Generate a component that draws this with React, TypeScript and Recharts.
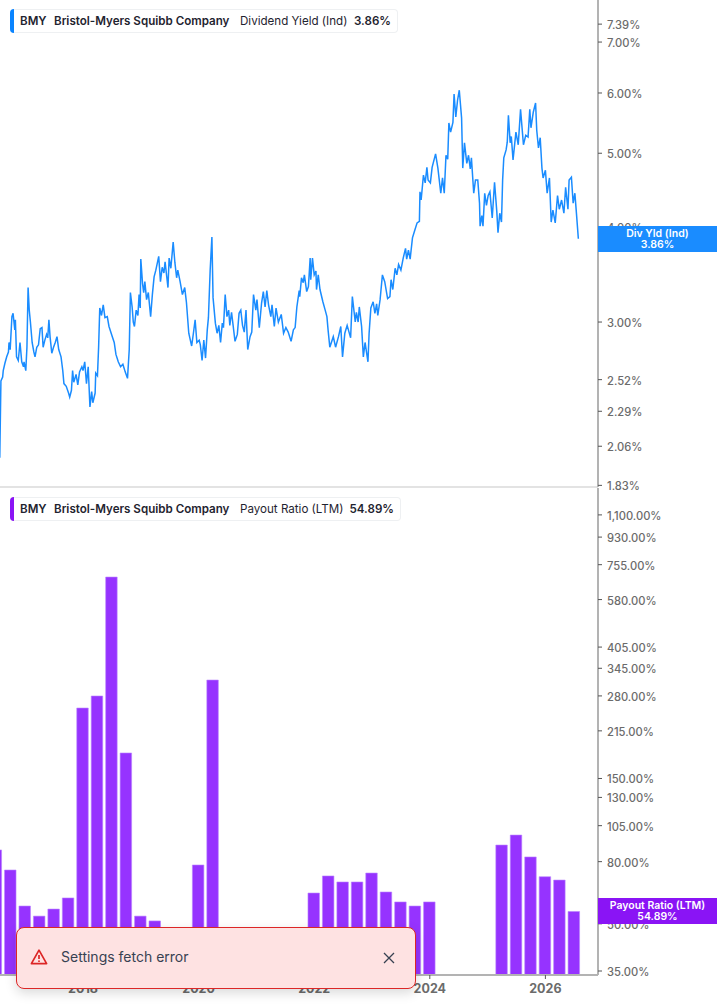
import React from "react";
import {
  Bar,
  BarChart,
  Line,
  LineChart,
  XAxis,
  YAxis,
} from "recharts";

// decimal years
const yieldYears = [
  2016.56, 2016.58, 2016.61, 2016.62, 2016.65, 2016.68, 2016.71, 2016.72, 2016.74, 2016.77,
  2016.79, 2016.82, 2016.83, 2016.85, 2016.88, 2016.91, 2016.94, 2016.97, 2016.98, 2017.01,
  2017.03, 2017.05, 2017.07, 2017.09, 2017.12, 2017.15, 2017.17, 2017.2, 2017.23, 2017.26,
  2017.29, 2017.31, 2017.34, 2017.37, 2017.39, 2017.41, 2017.43, 2017.46, 2017.49, 2017.52,
  2017.55, 2017.58, 2017.62, 2017.65, 2017.67, 2017.71, 2017.75, 2017.77, 2017.8, 2017.82,
  2017.84, 2017.88, 2017.91, 2017.94, 2017.98, 2018.0, 2018.03, 2018.06, 2018.09, 2018.12,
  2018.15, 2018.17, 2018.21, 2018.22, 2018.25, 2018.27, 2018.29, 2018.32, 2018.35, 2018.38,
  2018.42, 2018.45, 2018.5, 2018.54, 2018.57, 2018.61, 2018.65, 2018.69, 2018.73, 2018.77,
  2018.8, 2018.82, 2018.85, 2018.87, 2018.89, 2018.92, 2018.95, 2018.97, 2018.99, 2019.0,
  2019.03, 2019.05, 2019.07, 2019.1, 2019.13, 2019.17, 2019.2, 2019.23, 2019.26, 2019.31,
  2019.34, 2019.37, 2019.4, 2019.42, 2019.47, 2019.49, 2019.52, 2019.56, 2019.59, 2019.62,
  2019.64, 2019.68, 2019.72, 2019.76, 2019.79, 2019.83, 2019.88, 2019.91, 2019.94, 2019.97,
  2020.01, 2020.03, 2020.06, 2020.09, 2020.12, 2020.15, 2020.17, 2020.2, 2020.23, 2020.25,
  2020.29, 2020.32, 2020.35, 2020.38, 2020.41, 2020.43, 2020.46, 2020.49, 2020.52, 2020.54,
  2020.57, 2020.63, 2020.67, 2020.7, 2020.73, 2020.76, 2020.79, 2020.82, 2020.85, 2020.89,
  2020.92, 2020.95, 2020.99, 2021.01, 2021.05, 2021.09, 2021.12, 2021.15, 2021.18, 2021.21,
  2021.25, 2021.27, 2021.31, 2021.34, 2021.38, 2021.43, 2021.47, 2021.51, 2021.55, 2021.6,
  2021.64, 2021.67, 2021.7, 2021.74, 2021.75, 2021.78, 2021.81, 2021.83, 2021.87, 2021.9,
  2021.93, 2021.94, 2021.97, 2022.0, 2022.03, 2022.04, 2022.07, 2022.1, 2022.15, 2022.19,
  2022.22, 2022.24, 2022.27, 2022.33, 2022.37, 2022.42, 2022.46, 2022.49, 2022.53, 2022.57,
  2022.63, 2022.66, 2022.71, 2022.73, 2022.76, 2022.78, 2022.82, 2022.85, 2022.88, 2022.93,
  2022.95, 2022.98, 2023.02, 2023.05, 2023.08, 2023.1, 2023.14, 2023.18, 2023.22, 2023.27,
  2023.31, 2023.33, 2023.36, 2023.4, 2023.43, 2023.46, 2023.5, 2023.54, 2023.58, 2023.6,
  2023.63, 2023.66, 2023.7, 2023.74, 2023.78, 2023.82, 2023.83, 2023.85, 2023.89, 2023.92,
  2023.95, 2023.97, 2024.01, 2024.04, 2024.1, 2024.14, 2024.19, 2024.22, 2024.25, 2024.28,
  2024.31, 2024.33, 2024.36, 2024.4, 2024.42, 2024.45, 2024.48, 2024.51, 2024.55, 2024.57,
  2024.6, 2024.64, 2024.67, 2024.7, 2024.72, 2024.76, 2024.79, 2024.83, 2024.86, 2024.87,
  2024.9, 2024.92, 2024.95, 2024.98, 2025.01, 2025.04, 2025.08, 2025.12, 2025.16, 2025.18,
  2025.21, 2025.24, 2025.26, 2025.28, 2025.32, 2025.34, 2025.36, 2025.39, 2025.41, 2025.44,
  2025.49, 2025.53, 2025.57, 2025.62, 2025.66, 2025.7, 2025.73, 2025.75, 2025.79, 2025.83,
  2025.85, 2025.88, 2025.91, 2025.94, 2025.96, 2026.0, 2026.03, 2026.07, 2026.1, 2026.13,
  2026.17, 2026.21, 2026.24, 2026.28, 2026.32, 2026.35, 2026.39, 2026.41, 2026.45, 2026.48,
  2026.51, 2026.54, 2026.57,
];

const yieldValues = [
  1.99, 2.51, 2.54, 2.59, 2.65, 2.7, 2.74, 2.82, 2.76, 3.05,
  3.08, 2.93, 3.02, 2.7, 2.67, 2.82, 2.66, 2.62, 2.66, 2.59,
  2.78, 3.33, 3.11, 3.0, 2.82, 2.74, 2.7, 2.78, 2.8, 2.94,
  2.95, 2.78, 2.84, 2.89, 2.86, 3.02, 2.87, 2.73, 2.78, 2.82,
  2.87, 2.76, 2.7, 2.59, 2.49, 2.47, 2.42, 2.39, 2.44, 2.59,
  2.5, 2.56, 2.48, 2.58, 2.62, 2.59, 2.66, 2.49, 2.62, 2.32,
  2.43, 2.35, 2.42, 2.57, 2.55, 2.78, 3.13, 3.06, 3.16, 3.04,
  3.05, 2.96, 2.88, 2.82, 2.72, 2.66, 2.62, 2.64, 2.58, 2.53,
  2.76, 3.28, 3.14, 3.0, 2.96, 3.11, 3.06, 3.26, 3.13, 3.63,
  3.37, 3.28, 3.39, 3.21, 3.28, 3.05, 3.26, 3.44, 3.51, 3.66,
  3.39, 3.54, 3.48, 3.6, 3.33, 3.64, 3.53, 3.82, 3.59, 3.43,
  3.51, 3.39, 3.26, 3.33, 3.18, 2.9, 2.79, 2.9, 3.02, 2.82,
  2.84, 2.8, 2.67, 2.84, 2.69, 2.93, 3.04, 3.51, 3.88, 3.23,
  2.99, 2.9, 2.97, 2.82, 2.99, 2.95, 3.26, 3.05, 3.11, 2.97,
  3.09, 2.83, 2.89, 3.08, 3.11, 2.97, 2.91, 3.11, 2.76, 2.87,
  2.91, 3.26, 3.11, 3.21, 2.95, 3.18, 3.29, 3.14, 3.3, 3.16,
  3.05, 3.16, 2.96, 3.13, 3.0, 3.07, 2.9, 2.95, 2.91, 2.83,
  2.93, 2.95, 3.14, 3.3, 3.24, 3.43, 3.38, 3.46, 3.29, 3.34,
  3.64, 3.41, 3.64, 3.46, 3.5, 3.31, 3.46, 3.31, 3.19, 3.11,
  3.05, 2.93, 2.78, 2.87, 2.78, 2.87, 2.96, 2.7, 2.9, 2.97,
  2.86, 3.24, 3.0, 3.09, 3.0, 3.14, 2.96, 2.7, 2.82, 2.66,
  2.9, 3.13, 3.19, 3.08, 3.17, 3.06, 3.21, 3.46, 3.39, 3.22,
  3.24, 3.41, 3.31, 3.53, 3.46, 3.57, 3.51, 3.64, 3.75, 3.63,
  3.73, 3.63, 3.87, 3.96, 4.05, 4.07, 4.45, 4.34, 4.68, 4.57,
  4.79, 4.61, 4.57, 4.79, 4.99, 4.78, 4.43, 4.64, 4.43, 4.97,
  4.91, 5.48, 5.33, 5.49, 5.98, 5.58, 5.87, 6.05, 5.56, 4.78,
  5.16, 4.85, 4.97, 4.77, 4.93, 4.43, 4.61, 4.61, 4.3, 4.01,
  4.14, 4.01, 4.43, 4.27, 4.4, 4.45, 4.11, 4.58, 4.18, 3.93,
  4.17, 4.06, 4.61, 4.93, 5.05, 5.17, 5.61, 5.16, 5.26, 4.9,
  5.33, 5.13, 5.71, 5.13, 5.28, 5.25, 5.71, 5.4, 5.66, 5.82,
  5.36, 5.08, 5.24, 4.78, 4.64, 4.75, 4.43, 4.64, 4.06, 4.21,
  4.05, 4.4, 4.22, 4.34, 4.17, 4.51, 4.22, 4.61, 4.65, 4.3,
  4.43, 4.14, 3.86,
];

const payoutYears = [
  2016.5, 2016.75, 2017.0, 2017.25, 2017.5, 2017.75, 2018.0, 2018.25, 2018.5, 2018.75,
  2019.0, 2019.25, 2020.0, 2020.25, 2022.0, 2022.25, 2022.5, 2022.75, 2023.0, 2023.25,
  2023.5, 2023.75, 2024.0, 2025.25, 2025.5, 2025.75, 2026.0, 2026.25, 2026.5,
];

const payoutValues = [
  87.4, 75.1, 57.2, 53.0, 55.9, 60.8, 255.5, 279.8, 687.7, 181.9,
  53.0, 51.1, 78.0, 315.7, 63.1, 71.8, 68.6, 68.6, 73.4, 63.6,
  59.0, 57.2, 59.0, 90.7, 97.8, 82.9, 71.4, 69.6, 54.89,
];

const yieldTicks = [7.39, 7.0, 6.0, 5.0, 4.0, 3.0, 2.52, 2.29, 2.06, 1.83];
const payoutTicks = [1100, 930, 755, 580, 405, 345, 280, 215, 150, 130, 105, 80, 55, 50, 35];
const yearTicks = [2018, 2020, 2022, 2024, 2026];

const yieldData = yieldYears.map((year, i) => ({ year, value: yieldValues[i] }));
const payoutData = payoutYears.map((year, i) => ({ year, value: payoutValues[i] }));

const FONT = "Inter, sans-serif";
const AXIS_GREY = "#b3b3b3";
const TEXT_GREY = "#6b6b6b";
const X_DOMAIN = [2016.564, 2026.91];

const pct = (v: number) =>
  v.toLocaleString("en-US", { minimumFractionDigits: 2, maximumFractionDigits: 2 }) + "%";

function Legend({ top, width, color, name, value }: any) {
  return (
    <div
      style={{
        position: "absolute",
        left: 10,
        top,
        width,
        height: 24,
        boxSizing: "border-box",
        background: "#fff",
        border: "1px solid #eef0f2",
        borderLeft: "none",
        borderRadius: 4,
        fontFamily: FONT,
        fontSize: 11.6,
        lineHeight: "22px",
        color: "#1f2430",
        whiteSpace: "nowrap",
      }}
    >
      <span
        style={{
          position: "absolute",
          left: 0,
          top: -1,
          width: 4,
          height: 24,
          background: color,
          borderRadius: "4px 0 0 4px",
        }}
      />
      <span style={{ position: "absolute", left: 10, fontWeight: 600 }}>BMY</span>
      <span style={{ position: "absolute", left: 44, fontWeight: 600 }}>Bristol-Myers Squibb Company</span>
      <span style={{ position: "absolute", left: 230, fontWeight: 400 }}>{name}</span>
      <span style={{ position: "absolute", right: 6, fontWeight: 600 }}>{value}</span>
    </div>
  );
}

function Badge({ top, color, label, value }: any) {
  return (
    <div
      style={{
        position: "absolute",
        left: 598,
        top,
        width: 119,
        height: 26,
        background: color,
        color: "#fff",
        fontFamily: FONT,
        fontSize: 10.5,
        fontWeight: 600,
        lineHeight: "11px",
        textAlign: "center",
        paddingTop: 2,
        boxSizing: "border-box",
      }}
    >
      <div>{label}</div>
      <div>{value}</div>
    </div>
  );
}

function Toast() {
  return (
    <div
      style={{
        position: "absolute",
        left: 16,
        top: 927,
        width: 400,
        height: 62,
        boxSizing: "border-box",
        background: "#fee2e2",
        border: "1px solid #dc2626",
        borderRadius: 8,
        boxShadow: "0 4px 12px rgba(0,0,0,0.15)",
        fontFamily: FONT,
        fontSize: 14,
        color: "#374151",
      }}
    >
      <svg width="18" height="18" viewBox="0 0 18 18" style={{ position: "absolute", left: 13, top: 20 }}>
        <path
          d="M9 2.2 L16.6 15.6 H1.4 Z"
          fill="none"
          stroke="#dc2626"
          strokeWidth="1.7"
          strokeLinejoin="round"
        />
        <path d="M9 7 V11" stroke="#dc2626" strokeWidth="1.7" />
        <circle cx="9" cy="13.2" r="0.9" fill="#dc2626" />
      </svg>
      <span style={{ position: "absolute", left: 44, top: 20, lineHeight: "18px" }}>Settings fetch error</span>
      <svg width="12" height="12" viewBox="0 0 12 12" style={{ position: "absolute", left: 366, top: 24 }}>
        <path d="M1 1 L11 11 M11 1 L1 11" stroke="#374151" strokeWidth="1.3" />
      </svg>
    </div>
  );
}

export default function App() {
  const tickStyle = { fill: TEXT_GREY, fontSize: 11.2, fontWeight: 500, fontFamily: FONT, dy: 1 };
  return (
    <div style={{ position: "absolute", left: 0, top: 0, width: 717, height: 1005, overflow: "hidden", background: "#fff" }}>
      <div style={{ position: "absolute", left: 0, top: 0 }}>
        <LineChart width={717} height={506} data={yieldData} margin={{ top: 0, right: 0, bottom: 0, left: 0 }}>
          <XAxis
            dataKey="year"
            type="number"
            domain={X_DOMAIN}
            allowDataOverflow
            height={19}
            tick={false}
            tickLine={false}
            axisLine={{ stroke: "#e3e3e3", strokeWidth: 2 }}
          />
          <YAxis
            orientation="right"
            width={119}
            scale="log"
            domain={[1.821, 7.95]}
            allowDataOverflow
            ticks={yieldTicks}
            interval={0}
            tickFormatter={pct}
            tick={tickStyle}
            tickSize={4}
            tickMargin={5}
            tickLine={{ stroke: "#555" }}
            axisLine={{ stroke: AXIS_GREY, strokeWidth: 2 }}
          />
          <Line
            dataKey="value"
            type="linear"
            stroke="#1a8cff"
            strokeWidth={1.5}
            dot={false}
            isAnimationActive={false}
          />
        </LineChart>
      </div>
      <div style={{ position: "absolute", left: 0, top: 488 }}>
        <BarChart width={717} height={517} data={payoutData} margin={{ top: 0, right: 0, bottom: 0, left: 0 }}>
          <XAxis
            dataKey="year"
            type="number"
            domain={X_DOMAIN}
            allowDataOverflow
            ticks={yearTicks}
            interval={0}
            height={30}
            tick={{ fill: TEXT_GREY, fontSize: 12.5, fontWeight: 700, fontFamily: FONT }}
            tickSize={4}
            tickMargin={5}
            tickLine={{ stroke: "#555" }}
            axisLine={{ stroke: AXIS_GREY, strokeWidth: 2 }}
          />
          <YAxis
            orientation="right"
            width={119}
            scale="log"
            domain={[33.96, 1348]}
            allowDataOverflow
            ticks={payoutTicks}
            interval={0}
            tickFormatter={pct}
            tick={tickStyle}
            tickSize={4}
            tickMargin={5}
            tickLine={{ stroke: "#555" }}
            axisLine={{ stroke: AXIS_GREY, strokeWidth: 2 }}
          />
          <Bar
            dataKey="value"
            barSize={11.5}
            fill="#9633ff"
            stroke="#bb85ff"
            strokeWidth={0.6}
            isAnimationActive={false}
          />
        </BarChart>
      </div>
      <Legend top={9} width={388} color="#0a84ff" name="Dividend Yield (Ind)" value="3.86%" />
      <Legend top={497} width={391} color="#8a14f5" name="Payout Ratio (LTM)" value="54.89%" />
      <Badge top={226} color="#1a8cff" label="Div Yld (Ind)" value="3.86%" />
      <Badge top={898} color="#8a14f5" label="Payout Ratio (LTM)" value="54.89%" />
      <Toast />
    </div>
  );
}
